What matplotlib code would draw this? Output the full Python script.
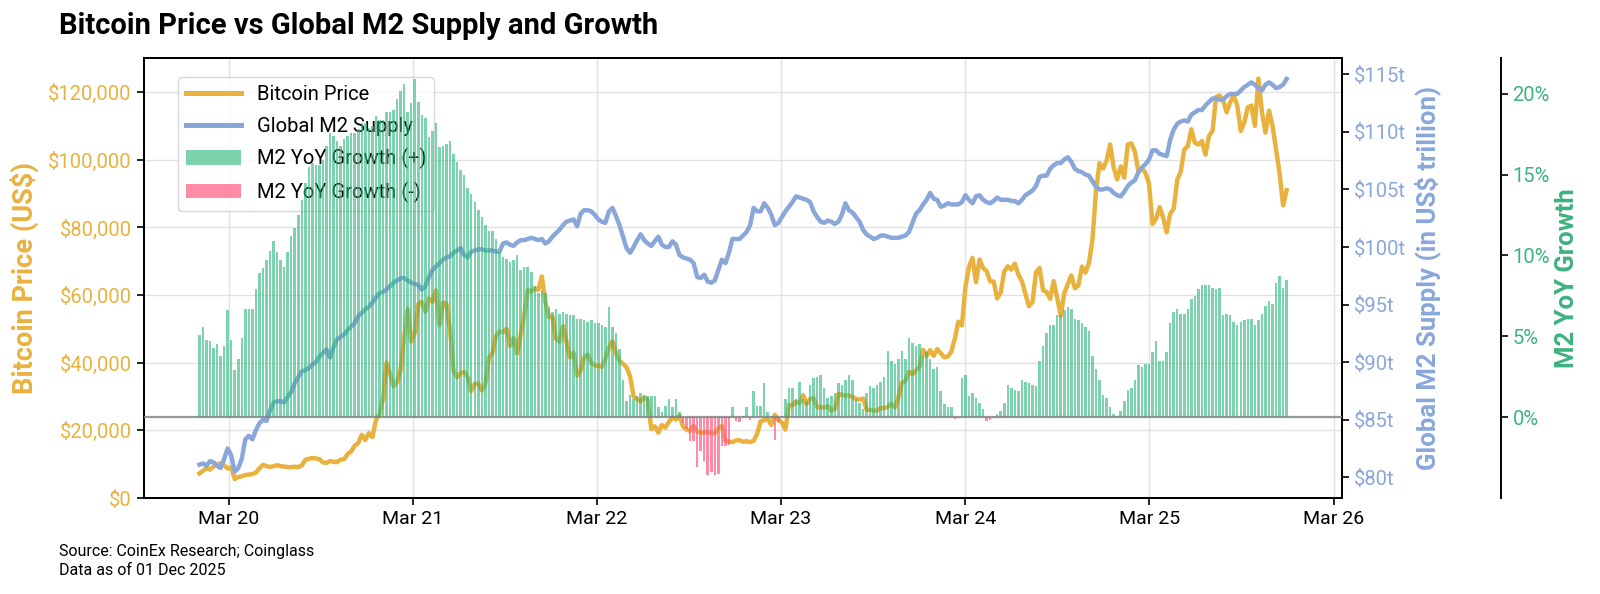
import numpy as np
import pandas as pd
import matplotlib
matplotlib.use("Agg")
import matplotlib.pyplot as plt
import matplotlib.dates as mdates
from matplotlib.ticker import MultipleLocator, FixedLocator, FuncFormatter
from matplotlib.lines import Line2D
from matplotlib.patches import Patch

# 周度数据，从 2020-01-03 开始
start_date = "2020-01-03"

# 比特币价格（美元）
btc_2020 = [7300, 8000, 8900, 8400, 9300, 9800, 10300, 9700, 8700, 9100, 5600, 6200, 6400,
            6800, 6900, 7100, 7500, 8800, 9800, 9400, 9200, 9400, 9700, 9400, 9300, 9150,
            9100, 9250, 9150, 9600, 11300, 11600, 11800, 11700, 11500, 10500, 10400, 10900, 10700,
            10600, 11300, 11500, 13000, 13800, 15500, 16300, 18700, 17100, 19200, 18000, 23000, 24700]
btc_2021 = [29400, 40000, 36800, 33000, 34300, 38000, 47500, 55900, 46300, 48800, 57300, 58000, 55000,
            59000, 58000, 61400, 51000, 57800, 57300, 49700, 37500, 35700, 36900, 37300, 35800, 31600,
            33800, 33800, 31800, 33700, 41500, 42800, 47800, 49300, 49000, 50000, 45000, 47300, 42700,
            48200, 53900, 61500, 61000, 62000, 61500, 65500, 58000, 53500, 53600, 47100, 46200, 50800, 46200]
btc_2022 = [41500, 43000, 36200, 37700, 41600, 42400, 40000, 39200, 39000, 38800, 41100, 44500, 46300,
            42800, 40500, 39700, 38600, 36000, 30000, 29200, 28600, 29700, 29100, 20400, 21200, 19300,
            21600, 20800, 22500, 23800, 23200, 24400, 21100, 20200, 19800, 21300, 19700, 19300, 19400,
            19500, 19200, 19100, 20600, 21300, 17000, 16700, 16500, 17000, 17100, 16600, 16800, 16500]
btc_2023 = [16900, 19000, 22700, 23000, 23400, 21600, 24600, 23100, 22300, 20200, 27400, 27500, 28500,
            28000, 30400, 27800, 29300, 29500, 26800, 26900, 26700, 27200, 25800, 26300, 30700, 30500,
            30300, 30300, 29900, 29300, 29100, 29400, 26100, 26000, 25800, 25900, 26600, 26600, 26900,
            27900, 26800, 29700, 34000, 34700, 37300, 36600, 37700, 38700, 43800, 42000, 43700, 42000]
btc_2024 = [44000, 42800, 41600, 41800, 43200, 47100, 52100, 51000, 62400, 68300, 71000, 63800, 70500,
            68000, 67100, 64000, 64000, 59000, 60800, 67000, 68500, 67500, 69300, 66000, 64100, 60300,
            56700, 57900, 66700, 68000, 61400, 60900, 58900, 64100, 59100, 53900, 60500, 63200, 65800,
            62000, 62800, 68400, 66600, 69500, 76500, 91000, 99000, 97400, 99800, 104500, 97700, 94200]
btc_2025 = [98000, 94700, 104500, 104800, 102400, 96500, 97500, 96100, 93000, 81000, 82500, 86000,
            83000, 78500, 84000, 85500, 94000, 96500, 103000, 104000, 109000, 105000, 104500, 105500,
            101500, 107000, 108500, 118500, 119000, 117500, 114000, 117000, 119000, 116000, 108500, 111000,
            115500, 116000, 110000, 124000, 114000, 108000, 114500, 110000, 103000, 96000, 86500, 91000]

# 全球 M2 供应（万亿美元）
m2_2020 = [81.1, 81.2, 81.0, 81.4, 81.3, 81.0, 80.8, 81.6, 82.5, 81.9,
           80.5, 80.8, 81.6, 83.3, 83.6, 83.3, 84.1, 84.7, 85.0, 84.9,
           85.8, 86.5, 86.6, 86.6, 86.5, 87.0, 87.4, 88.2, 88.7, 89.2,
           89.3, 89.5, 89.8, 90.0, 90.5, 90.8, 91.1, 90.4, 91.3, 92.0,
           92.2, 92.4, 92.8, 93.1, 93.4, 94.0, 94.3, 94.6, 94.8, 95.2,
           95.6, 96.0]
m2_2021 = [96.1, 96.3, 96.6, 96.9, 97.1, 97.3, 97.3, 97.1,
           96.9, 96.8, 96.7, 96.3, 96.6, 97.4, 98.0, 98.3, 98.6, 98.9,
           99.1, 99.2, 99.5, 99.7, 99.9, 99.3, 99.1, 99.6, 99.7, 99.8,
           99.8, 99.7, 99.7, 99.7, 99.6, 99.6, 100.3, 100.4, 100.2, 100.1,
           100.4, 100.6, 100.6, 100.7, 100.8, 100.7, 100.6, 100.7, 100.3, 100.5,
           100.9, 101.2, 101.5, 101.9, 102.2]
m2_2022 = [102.3, 102.4, 101.8, 102.9, 103.2,
           103.2, 103.1, 102.8, 102.4, 102.2, 102.1, 103.1, 103.4, 102.7, 101.9,
           100.9, 99.9, 99.5, 100.0, 100.6, 101.1, 100.6, 100.3, 100.1, 100.5,
           100.9, 100.2, 100.0, 100.0, 100.5, 100.2, 99.3, 99.1, 99.0, 98.9,
           98.6, 97.4, 97.3, 97.6, 97.0, 96.9, 97.1, 98.0, 98.9, 98.6,
           99.5, 100.7, 100.7, 100.7, 101.0, 101.3, 101.9]
m2_2023 = [103.4, 103.1, 103.1,
           103.8, 103.4, 102.8, 101.9, 102.1, 102.6, 103.1, 103.5, 103.9, 104.4,
           104.3, 104.2, 104.1, 103.9, 103.1, 102.6, 102.2, 102.1, 102.3, 102.2,
           102.0, 102.2, 102.8, 103.8, 103.2, 103.0, 102.6, 102.2, 101.5, 101.1,
           100.9, 100.7, 100.8, 101.0, 101.0, 100.9, 100.8, 100.8, 100.8, 100.9,
           101.0, 101.3, 102.1, 102.9, 103.2, 103.7, 104.1, 104.7, 104.2]
m2_2024 = [104.1,
           103.5, 103.6, 103.8, 103.7, 103.7, 103.7, 103.9, 104.5, 104.1, 103.8,
           104.4, 104.5, 104.1, 103.9, 103.8, 104.0, 104.3, 104.1, 104.1, 104.1,
           104.0, 104.0, 103.8, 104.1, 104.5, 104.7, 104.9, 105.3, 106.1, 106.2,
           106.2, 106.8, 107.1, 107.3, 107.3, 107.6, 107.8, 107.4, 106.8, 106.6,
           106.5, 106.3, 106.2, 105.7, 105.2, 105.0, 105.0, 105.1, 105.0, 104.7,
           104.5]
m2_2025 = [104.4, 104.8, 105.3, 105.6, 105.8, 106.5, 106.9, 107.2, 107.6,
           108.4, 108.4, 108.1, 108.0, 107.9, 109.3, 110.2, 110.7, 110.9, 111.0,
           110.9, 111.5, 111.7, 111.9, 111.9, 112.3, 112.6, 112.9, 112.9, 112.8,
           112.8, 113.1, 113.3, 113.3, 113.3, 113.6, 113.9, 114.1, 114.3, 114.1,
           113.8, 113.6, 114.1, 114.3, 114.1, 113.8, 113.9, 114.1, 114.6]

# M2 同比增长率（%）
yoy_2020 = [5.1, 5.6, 4.8, 4.7, 4.3, 4.5, 3.8, 4.4, 6.6, 4.8,
            2.9, 3.6, 4.9, 6.7, 6.7, 6.7, 7.9, 8.9, 9.2, 9.7,
            10.3, 10.9, 10.2, 9.7, 9.3, 10.2, 11.2, 11.7, 12.5, 13.4,
            14.5, 15.5, 15.7, 15.6, 15.6, 15.9, 16.8, 17.6, 17.4, 17.1,
            16.8, 17.2, 17.4, 17.6, 17.6, 17.8, 18.2, 18.2, 17.9, 18.0,
            18.6, 18.4]
yoy_2021 = [18.4, 18.9, 18.9, 19.0, 19.7, 20.2, 20.6, 18.9,
            19.4, 20.9, 19.5, 18.7, 18.5, 17.3, 17.7, 18.2, 16.7, 16.8,
            16.9, 17.1, 16.3, 15.8, 15.3, 15.0, 14.2, 13.8, 13.3, 12.8,
            12.4, 11.9, 11.5, 11.5, 11.0, 10.2, 9.9, 9.8, 9.6, 9.7,
            10.0, 9.1, 9.3, 9.3, 9.0, 8.1, 7.7, 7.8, 7.7, 6.8,
            6.5, 6.7, 6.4, 6.5, 6.4]
yoy_2022 = [6.3, 6.3, 6.1, 6.1, 6.0,
            5.9, 6.0, 5.8, 5.8, 5.7, 5.6, 6.8, 5.6, 5.2, 4.2,
            2.3, 1.0, 1.4, 1.1, 1.3, 1.5, 1.4, 1.3, 1.3, 1.3,
            0.6, 0.3, 0.7, 1.1, 0.6, 1.1, 0.3, -0.35, -0.76, -1.5,
            -1.5, -3.1, -2.1, -2.7, -3.6, -3.4, -3.6, -3.5, -1.8, -1.8,
            -1.7, 0.6, -0.25, -0.3, 0.05, 0.6, -0.15]
yoy_2023 = [1.6, 0.7, 0.7,
            2.1, 0.3, 0.05, -1.4, -0.3, 0.05, 1.1, 1.8, 1.8, 1.1,
            2.2, 1.1, 1.0, 2.0, 2.4, 2.5, 2.6, 1.8, 1.2, 1.3,
            1.5, 2.1, 2.0, 2.3, 2.6, 2.3, 1.1, 0.9, 0.5, 1.5,
            1.9, 1.8, 2.0, 2.2, 2.5, 4.1, 3.5, 3.3, 3.6, 4.1,
            3.6, 4.9, 4.6, 4.4, 4.5, 3.8, 4.0, 3.6, 3.0]
yoy_2024 = [3.1,
            1.6, 0.8, 0.6, 0.6, -0.1, -0.06, 2.4, 2.6, 1.3, 1.5,
            1.2, 0.9, 0.5, -0.25, -0.2, -0.06, 0.2, 0.4, 0.9, 2.0,
            1.8, 1.7, 1.6, 2.3, 2.2, 2.1, 2.0, 1.9, 3.5, 4.4,
            5.2, 5.7, 5.7, 6.3, 6.3, 6.6, 6.8, 6.7, 6.1, 6.0,
            5.8, 5.6, 5.3, 3.8, 3.0, 2.3, 1.4, 1.2, 0.6, 0.2,
            0.06]
yoy_2025 = [0.4, 1.0, 1.7, 1.8, 2.3, 3.2, 3.1, 3.3, 3.3,
            4.0, 4.7, 3.5, 3.5, 4.0, 5.8, 6.5, 6.7, 6.4, 6.4,
            6.7, 7.3, 7.5, 7.9, 8.2, 8.2, 8.2, 8.0, 7.9, 8.0,
            6.3, 6.4, 6.3, 5.9, 5.7, 5.9, 6.0, 6.1, 6.1, 5.7,
            6.0, 6.4, 6.9, 7.2, 7.0, 8.3, 8.7, 8.0, 8.5]

btc_price = btc_2020 + btc_2021 + btc_2022 + btc_2023 + btc_2024 + btc_2025
m2_supply = m2_2020 + m2_2021 + m2_2022 + m2_2023 + m2_2024 + m2_2025
m2_yoy = yoy_2020 + yoy_2021 + yoy_2022 + yoy_2023 + yoy_2024 + yoy_2025
if not (len(btc_price) == len(m2_supply) == len(m2_yoy)):
    raise ValueError(f"长度不一致: {len(btc_price)} {len(m2_supply)} {len(m2_yoy)}")

dates = pd.date_range(start_date, periods=len(btc_price), freq="7D")
yoy = np.array(m2_yoy)

# 颜色
BTC_C = "#E9B23F"
M2_C = "#8AA7DA"
POS_C = "#2DB87D"
NEG_C = "#FF5A80"
GREEN_TXT = "#3DB37E"

plt.rcParams["font.family"] = ["Roboto", "DejaVu Sans"]

fig, ax1 = plt.subplots(figsize=(16, 5.94), dpi=100)
fig.subplots_adjust(left=0.0898, right=0.839, bottom=0.1616, top=0.902)

# 比特币价格
ax1.plot(dates, btc_price, color=BTC_C, lw=3.2, zorder=3)
ax1.set_ylim(0, 130000)
ax1.yaxis.set_major_locator(MultipleLocator(20000))
ax1.yaxis.set_major_formatter(FuncFormatter(lambda v, p: f"${v:,.0f}"))
ax1.set_ylabel("Bitcoin Price (US$)", color=BTC_C, fontsize=19.5, fontweight="bold", labelpad=7)
ax1.tick_params(axis="y", labelcolor=BTC_C, labelsize=14.5, length=5, width=1.2)
ax1.tick_params(axis="x", labelsize=14, length=5, width=1.2)
ax1.xaxis.set_major_locator(mdates.MonthLocator(bymonth=3))
ax1.xaxis.set_major_formatter(mdates.DateFormatter("%b %y"))
ax1.grid(True, color="#E2E2E2", linewidth=1)
ax1.set_axisbelow(True)

# 全球 M2
ax2 = ax1.twinx()
ax2.plot(dates, m2_supply, color=M2_C, lw=3.2, zorder=3)
ax2.set_ylim(78.2, 116.4)
ax2.yaxis.set_major_locator(MultipleLocator(5))
ax2.yaxis.set_major_formatter(FuncFormatter(lambda v, p: f"${v:.0f}t"))
ax2.set_ylabel("Global M2 Supply (in US$ trillion)", color=M2_C, fontsize=18.5,
               fontweight="bold", labelpad=6)
ax2.tick_params(axis="y", labelcolor=M2_C, labelsize=14.5, length=5, width=1.2)

# M2 同比增长柱
ax3 = ax1.twinx()
ax3.spines["right"].set_position(("axes", 1.132))
for s in ["top", "left", "bottom"]:
    ax3.spines[s].set_visible(False)
pos = yoy >= 0
ax3.bar(dates[pos], yoy[pos], width=5, color=POS_C, alpha=0.62, linewidth=0)
ax3.bar(dates[~pos], yoy[~pos], width=5, color=NEG_C, alpha=0.7, linewidth=0)
ax3.axhline(0, color="#7F7F7F", lw=1.6, alpha=0.8)
ax3.set_ylim(-5, 22.2)
ax3.yaxis.set_major_locator(FixedLocator([0, 5, 10, 15, 20]))
ax3.yaxis.set_major_formatter(FuncFormatter(lambda v, p: f"{v:.0f}%"))
ax3.set_ylabel("M2 YoY Growth", color=GREEN_TXT, fontsize=18.5, fontweight="bold", labelpad=4)
ax3.tick_params(axis="y", labelcolor=GREEN_TXT, labelsize=14.5, length=5, width=1.2)

for ax in (ax1, ax2, ax3):
    for s in ax.spines.values():
        s.set_linewidth(1.4)

# 图例
handles = [Line2D([0], [0], color=BTC_C, lw=3.6),
           Line2D([0], [0], color=M2_C, lw=3.6),
           Patch(facecolor=POS_C, alpha=0.62),
           Patch(facecolor=NEG_C, alpha=0.7)]
labels = ["Bitcoin Price", "Global M2 Supply", "M2 YoY Growth (+)", "M2 YoY Growth (-)"]
ax1.legend(handles, labels, loc="upper left", bbox_to_anchor=(0.0287, 0.957), borderaxespad=0,
           fontsize=14.5, handlelength=2.7, labelspacing=0.62, framealpha=0.8,
           edgecolor="#CCCCCC")

fig.text(0.037, 0.957, "Bitcoin Price vs Global M2 Supply and Growth", fontsize=21,
         fontweight="bold", va="center", ha="left")
fig.text(0.0366, 0.071, "Source: CoinEx Research; Coinglass", fontsize=11.5, va="center")
fig.text(0.0366, 0.039, "Data as of 01 Dec 2025", fontsize=11.5, va="center")

fig.savefig("out.png", dpi=100)
